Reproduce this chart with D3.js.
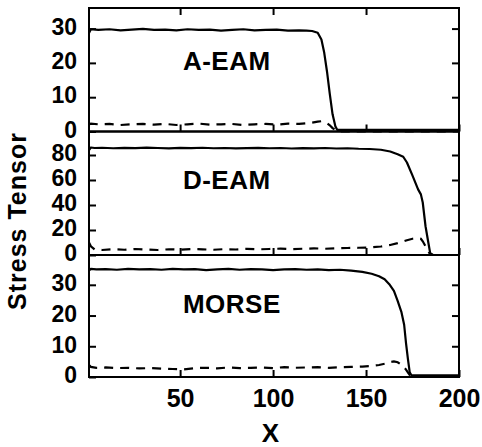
<!DOCTYPE html>
<html>
<head>
<meta charset="utf-8">
<script src="https://d3js.org/d3.v7.min.js"></script>
<style>
body { margin: 0; background: #fff; }
svg text { font-family: "Liberation Sans", Arial, Helvetica, sans-serif; font-weight: bold; fill: #000; }
.frame { fill: none; stroke: #000; stroke-width: 2px; }
.solid { fill: none; stroke: #000; stroke-width: 2.2px; stroke-linejoin: round; }
.dashed { fill: none; stroke: #000; stroke-width: 2.2px; stroke-dasharray: 9,7; }
.axis line { stroke: #000; stroke-width: 2px; }
.axis path { display: none; }
.axis text { font-size: 25px; }
.yaxis text { font-size: 23px; }
</style>
</head>
<body>
<svg width="482" height="447"></svg>
<script>
// x ticks shared by all panels
var xTicks = [50, 100, 150, 200];
var panelNames = ["A-EAM", "D-EAM", "MORSE"];
var yTicks1 = [0, 10, 20, 30];
var yTicks2 = [0, 20, 40, 60, 80];
var yTicks3 = [0, 10, 20, 30];

// A-EAM
var aeamX      = [1, 2, 6, 12, 18, 24, 30, 36, 42, 48, 54, 60, 66, 72, 78, 84, 90, 96, 102, 108, 114, 118, 121, 124, 126, 127.5, 129, 130.5, 132, 133.5, 134.5, 136, 200];
var aeamSolid  = [28.7, 29.8, 29.6, 29.8, 29.5, 29.7, 29.9, 29.6, 29.7, 29.5, 29.8, 29.6, 29.7, 29.4, 29.6, 29.8, 29.5, 29.6, 29.7, 29.4, 29.5, 29.4, 29.3, 28.8, 26.8, 23.0, 17.5, 11.0, 5.0, 1.5, 0.5, 0.5, 0.5];
var aeamDashed = [2.0, 2.3, 2.1, 2.2, 1.9, 2.1, 2.2, 2.0, 2.2, 1.9, 2.1, 2.3, 2.0, 2.1, 2.2, 1.9, 2.1, 2.2, 2.0, 2.3, 2.2, 2.4, 2.6, 2.9, 3.0, 2.8, 2.4, 1.8, 1.0, 0.4, 0, 0, 0];

// D-EAM
var deamX      = [1, 2, 4, 8, 14, 20, 26, 32, 38, 44, 50, 56, 62, 68, 74, 80, 86, 92, 98, 104, 110, 116, 122, 128, 134, 140, 146, 152, 158, 163, 167, 170, 172, 175, 178, 179.5, 180.5, 182, 183.5, 184.5, 186, 200];
var deamSolid  = [84.0, 86.0, 85.6, 85.8, 85.4, 85.7, 85.5, 85.9, 85.6, 85.3, 85.7, 85.5, 85.8, 85.4, 85.6, 85.3, 85.5, 85.7, 85.4, 85.6, 85.2, 85.5, 85.3, 85.6, 85.2, 85.4, 85.0, 84.8, 84.2, 82.8, 80.6, 78.6, 74.0, 63.5, 52.5, 48.5, 42.0, 23.0, 10.0, 1.5, 0, 0];
var deamDashed = [10.0, 7.0, 4.5, 4.0, 4.6, 4.2, 4.8, 4.4, 4.0, 4.6, 4.3, 4.8, 4.5, 4.2, 4.7, 4.4, 4.9, 4.5, 4.8, 5.1, 4.7, 5.0, 5.3, 5.0, 5.4, 5.6, 5.8, 6.0, 6.8, 8.0, 9.5, 10.8, 11.8, 13.0, 13.5, 13.0, 11.0, 7.0, 3.0, 0.5, 0, 0];

// MORSE
var morseX      = [1, 2, 5, 10, 16, 22, 28, 34, 40, 46, 52, 58, 64, 70, 76, 82, 88, 94, 100, 106, 112, 118, 124, 130, 136, 142, 148, 153, 157, 160, 162.5, 165, 167, 169, 170.5, 171.5, 172.5, 173.5, 174.5, 176, 200];
var morseSolid  = [34.6, 35.2, 35.0, 35.1, 34.9, 35.2, 35.0, 35.1, 34.9, 35.2, 35.0, 35.1, 34.8, 35.0, 35.2, 34.9, 35.1, 35.0, 34.8, 35.0, 35.1, 34.9, 35.0, 34.8, 34.9, 34.6, 34.2, 33.6, 32.8, 31.8, 30.2, 28.0, 24.8, 21.2, 17.0, 11.0, 6.0, 1.5, 0.5, 0.5, 0.5];
var morseDashed = [3.9, 3.3, 3.0, 3.1, 2.9, 3.0, 2.8, 2.9, 2.7, 2.6, 2.5, 2.9, 3.0, 2.8, 3.1, 2.9, 3.0, 3.1, 2.9, 3.2, 3.0, 3.1, 3.2, 3.0, 3.2, 3.3, 3.4, 3.6, 3.9, 4.3, 4.8, 5.1, 4.8, 4.0, 3.2, 2.4, 1.5, 0.6, 0, 0, 0];

var svg = d3.select("svg");

var x = d3.scaleLinear().domain([1, 200]).range([89, 459]);

var panels = [
	{ name: panelNames[0], xs: aeamX, solid: aeamSolid, dashed: aeamDashed, ticks: yTicks1, max: 36.0, top: 8, bottom: 131.5, labelY: 18.0 },
	{ name: panelNames[1], xs: deamX, solid: deamSolid, dashed: deamDashed, ticks: yTicks2, max: 98.8, top: 131.5, bottom: 255, labelY: 52.5 },
	{ name: panelNames[2], xs: morseX, solid: morseSolid, dashed: morseDashed, ticks: yTicks3, max: 39.7, top: 255, bottom: 377, labelY: 20.7 }
];

panels.forEach(function(p, i) {
	var y = d3.scaleLinear().domain([0, p.max]).range([p.bottom, p.top]);
	var g = svg.append("g");

	var line = d3.line()
		.x(function(d, j) { return x(p.xs[j]); })
		.y(function(d) { return y(d); });

	g.append("path").datum(p.dashed).attr("class", "dashed").attr("d", line);
	g.append("path").datum(p.solid).attr("class", "solid").attr("d", line);

	// left axis with labels, ticks pointing in
	g.append("g")
		.attr("class", "axis yaxis")
		.attr("transform", "translate(" + x(1) + ",0)")
		.call(d3.axisLeft(y).tickValues(p.ticks).tickSize(-7).tickPadding(12))
		.selectAll("text").attr("dy", "0.25em");

	g.append("g")
		.attr("class", "axis")
		.attr("transform", "translate(" + x(200) + ",0)")
		.call(d3.axisRight(y).tickValues(p.ticks.filter(function(t) { return t > 0; })).tickSize(-7).tickFormat(""));

	var bx = d3.axisBottom(x).tickValues(xTicks).tickSize(-7).tickPadding(12);
	if (i < 2) bx.tickFormat("");
	g.append("g")
		.attr("class", "axis")
		.attr("transform", "translate(0," + p.bottom + ")")
		.call(bx);

	if (i == 0) {
		g.append("g")
			.attr("class", "axis")
			.attr("transform", "translate(0," + p.top + ")")
			.call(d3.axisTop(x).tickValues([50, 100, 150]).tickSize(-7).tickFormat(""));
	}

	g.append("rect")
		.attr("class", "frame")
		.attr("x", x(1)).attr("y", p.top)
		.attr("width", x(200) - x(1)).attr("height", p.bottom - p.top);

	g.append("text")
		.attr("x", x(51.5))
		.attr("y", y(p.labelY))
		.style("font-size", "26px")
		.style("letter-spacing", "0.5px")
		.text(p.name);
});

svg.append("text")
	.attr("transform", "translate(26,221) rotate(-90)")
	.attr("text-anchor", "middle")
	.style("font-size", "25px")
	.style("letter-spacing", "1px")
	.text("Stress Tensor");

svg.append("text")
	.attr("x", 270.5)
	.attr("y", 442)
	.attr("text-anchor", "middle")
	.style("font-size", "26px")
	.text("X");
</script>
</body>
</html>
